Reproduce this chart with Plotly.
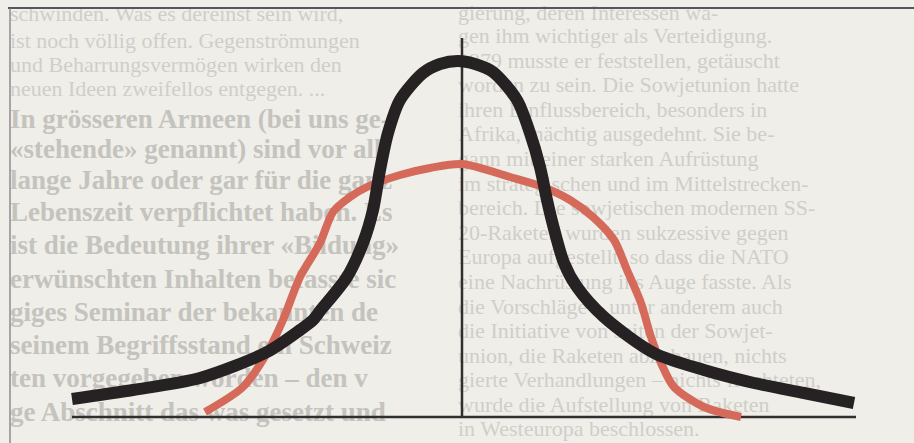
import plotly.graph_objects as go

# curve values (x: offset from the centre axis, y: height above the base line)
black_x = [-390, -329, -262, -195, -162, -149, -142, -115, -99, -89, -82, -74, -62, -39, -22, -4,
           13, 31, 55, 68, 78, 85, 91, 102, 115, 142, 192, 242, 292, 342, 392]
black_y = [18, 27, 39, 65, 87, 97, 106, 140, 174, 207, 247, 284, 317, 344, 353, 356,
           353, 345, 317, 284, 250, 217, 192, 154, 130, 100, 64, 47, 34, 24, 14]

red_x = [-257, -219, -195, -179, -162, -142, -129, -112, -95, -62, -32, 0,
         48, 81, 108, 131, 152, 165, 179, 189, 199, 212, 242, 279]
red_y = [5, 30, 64, 97, 140, 174, 205, 220, 230, 242, 249, 253,
         240, 230, 217, 200, 177, 147, 114, 80, 54, 30, 10, 0]

axis_x = [-390, 394]
axis_top = 379

# newspaper text showing through
col_left_plain = ["schwinden. Was es dereinst sein wird,",
                  "ist noch völlig offen. Gegenströmungen",
                  "und Beharrungsvermögen wirken den",
                  "neuen Ideen zweifellos entgegen. ..."]
col_left_plain_y = [402, 375, 351, 327]

col_left_bold = ["In grösseren Armeen (bei uns ge-",
                 "«stehende» genannt) sind vor all",
                 "lange Jahre oder gar für die ganz",
                 "Lebenszeit verpflichtet haben. Es",
                 "ist die Bedeutung ihrer «Bildung»",
                 "erwünschten Inhalten befasste sic",
                 "giges Seminar der bekannten de",
                 "seinem Begriffsstand ein Schweiz",
                 "ten vorgegeben worden – den v",
                 "ge Abschnitt das was gesetzt und"]
col_left_bold_y = [296, 266, 235, 203, 170, 136, 103, 70, 37, 3]

col_right = ["gierung, deren Interessen wa-",
             "gen ihm wichtiger als Verteidigung.",
             "1979 musste er feststellen, getäuscht",
             "worden zu sein. Die Sowjetunion hatte",
             "ihren Einflussbereich, besonders in",
             "Afrika, mächtig ausgedehnt. Sie be-",
             "gann mit einer starken Aufrüstung",
             "im strategischen und im Mittelstrecken-",
             "bereich. Die sowjetischen modernen SS-",
             "20-Raketen wurden sukzessive gegen",
             "Europa aufgestellt, so dass die NATO",
             "eine Nachrüstung ins Auge fasste. Als",
             "die Vorschläge – unter anderem auch",
             "die Initiative von seiten der Sowjet-",
             "union, die Raketen abzubauen, nichts",
             "gierte Verhandlungen – nichts fruchteten,",
             "wurde die Aufstellung von Raketen",
             "in Westeuropa beschlossen."]
col_right_y = [403, 380, 355, 331, 306, 282, 257, 232, 208, 183, 159, 134, 109, 85, 60, 36, 11, -13]

fig = go.Figure()

fig.add_trace(go.Scatter(x=[-452] * len(col_left_plain), y=col_left_plain_y, text=col_left_plain,
                         mode="text", textposition="middle right", cliponaxis=False,
                         textfont=dict(family="Liberation Serif", size=22, color="#cfcec9")))
fig.add_trace(go.Scatter(x=[-452] * len(col_left_bold), y=col_left_bold_y, text=col_left_bold,
                         mode="text", textposition="middle right", cliponaxis=False,
                         textfont=dict(family="Liberation Serif", size=27, color="#c4c3be",
                                       weight="bold")))
fig.add_trace(go.Scatter(x=[-4] * len(col_right), y=col_right_y, text=col_right,
                         mode="text", textposition="middle right", cliponaxis=False,
                         textfont=dict(family="Liberation Serif", size=22, color="#cfcec9")))

# axes of the sketch
fig.add_trace(go.Scatter(x=axis_x, y=[0, 0], mode="lines",
                         line=dict(color="#332d2f", width=2.5)))
fig.add_trace(go.Scatter(x=[0, 0], y=[0, axis_top], mode="lines",
                         line=dict(color="#332d2f", width=2.5)))

fig.add_trace(go.Scatter(x=red_x, y=red_y, mode="lines",
                         line=dict(color="#d56a5b", width=8, shape="spline", smoothing=0.8)))
fig.add_trace(go.Scatter(x=black_x, y=black_y, mode="lines",
                         line=dict(color="#262122", width=12, shape="spline", smoothing=0.8)))

# box frame
fig.add_shape(type="line", x0=-454, x1=452, y0=409, y1=409,
              line=dict(color="#58555f", width=2))
fig.add_shape(type="line", x0=-452, x1=-452, y0=-26, y1=409,
              line=dict(color="#76737e", width=1.2))

fig.update_layout(width=914, height=443,
                  margin=dict(l=0, r=0, t=0, b=0),
                  showlegend=False,
                  hovermode=False,
                  plot_bgcolor="#efeee9",
                  paper_bgcolor="#efeee9",
                  xaxis=dict(range=[-462, 452], visible=False, fixedrange=True),
                  yaxis=dict(range=[-26, 417], visible=False, fixedrange=True))

fig.write_html("out.html", config=dict(displayModeBar=False),
               post_script="document.body.style.margin='0';document.body.style.background='#efeee9';")
